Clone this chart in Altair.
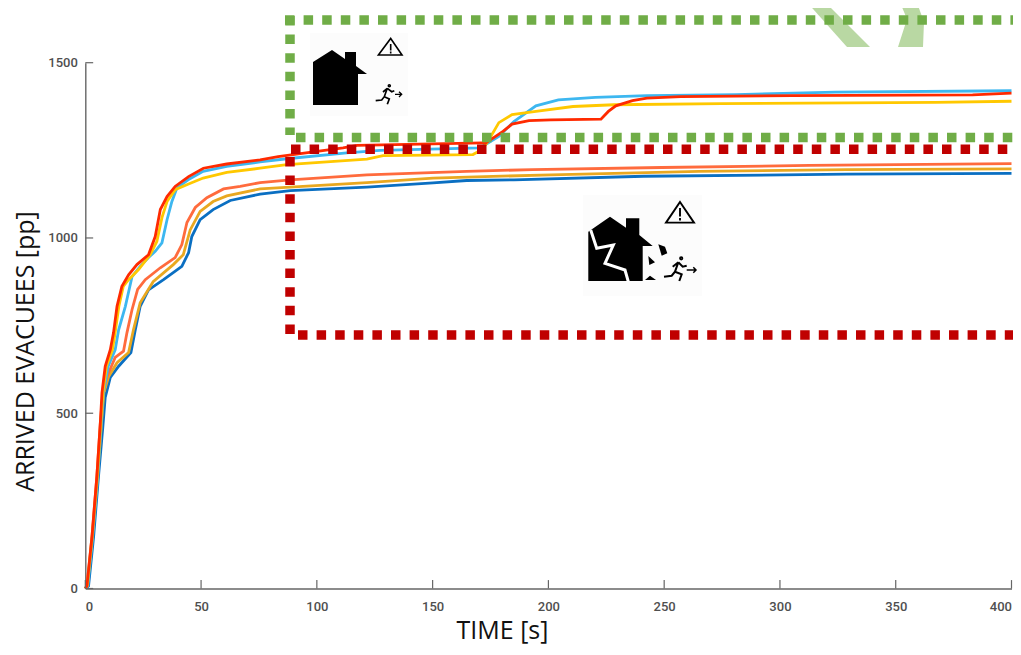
import altair as alt
import pandas as pd

# ---- values: time [s] / arrived evacuees [pp] ----
red_t = [0,0.7,2.9,5,6.5,7.2,8.6,10.8,12.2,13.7,15.8,18.7,22.3,27.3,30.2,32.4,35.3,38.8,44.6,51,61.1,75.5,83.3,111.3,117.4,171.7,173,180.4,184.3,191.6,201.1,222.7,225.9,229.1,236.3,242.5,257.2,305.1,383.2,400]
red_v = [0,7,149,320,473,559,634,681,730,805,862,895,924,952,1004,1081,1118,1147,1175,1199,1211,1223,1232,1257,1264,1271,1271,1304,1325,1335,1337,1339,1361,1377,1392,1399,1403,1406,1408,1413]

sky_t = [0,1.1,3.2,5.4,6.9,7.8,9.9,12.9,14.4,17.3,20.2,23.7,27.3,30.2,33.1,35.3,37.4,39.6,44.4,50.9,61.1,75.5,87,112.9,127.3,170.4,173.9,178.6,185.1,194.6,204.3,220.3,242.5,280.9,324,400]
sky_v = [0,9,149,320,473,559,634,681,738,805,890,919,944,962,986,1052,1104,1143,1166,1190,1204,1217,1226,1243,1250,1257,1271,1290,1332,1377,1394,1401,1406,1409,1416,1420]

yel_t = [0,0.9,3,5.2,6.7,7.6,9.1,11.7,12.9,14.5,16.4,18.7,23,28,30.9,33.1,35.3,38.8,44.6,50.9,61.1,75.5,87,121.6,128.6,167.4,171.2,173.9,178.6,184.3,194.6,210.6,228.3,274.7,367.2,400]
yel_v = [0,9,149,320,473,559,634,681,730,805,862,881,910,952,990,1058,1104,1138,1154,1171,1187,1199,1209,1225,1235,1238,1252,1275,1329,1352,1361,1375,1380,1383,1387,1390]

ora_t = [0,0.7,2.9,5,6.5,7.6,9.4,12.9,16.5,18,20.2,22.6,25.9,32.4,38.8,41.7,43.9,47.5,52.5,59.7,66.9,75.5,88.5,121.6,164.7,193.1,249,312.8,400]
ora_v = [0,7,149,320,473,559,605,659,677,730,796,853,881,915,944,981,1044,1087,1115,1140,1147,1158,1166,1180,1190,1195,1201,1207,1212]

gol_t = [0,0.9,3.1,5.3,7,8,10.1,13.7,18.7,20.8,23.7,29.3,38,42.3,45.3,49.6,55.2,61.1,75.5,88.5,121.6,150.2,201.1,264.9,328.8,400]
gol_v = [0,7,149,320,473,559,605,644,673,738,815,875,924,952,1023,1076,1104,1120,1140,1145,1158,1171,1180,1190,1195,1197]

blu_t = [0,1.4,3.6,5.7,7.6,8.6,10.8,14.4,19.7,21.6,23.7,27.3,33.8,41.7,44.6,46,49.6,55.2,62.6,75.5,88.5,121.6,150.2,164.7,185.1,241.1,328.8,400]
blu_v = [0,7,149,320,463,545,602,634,673,738,805,852,881,919,958,1004,1052,1081,1107,1125,1135,1145,1157,1164,1166,1176,1182,1184]

series = [("blue", blu_t, blu_v, "#0a6fc2"), ("gold", gol_t, gol_v, "#e9a820"),
          ("orange", ora_t, ora_v, "#ff6b3d"), ("sky", sky_t, sky_v, "#3db7f0"),
          ("yellow", yel_t, yel_v, "#ffc800"), ("red", red_t, red_v, "#ff2a00")]
x_ticks = [0, 50, 100, 150, 200, 250, 300, 350, 400]
y_ticks = [0, 500, 1000, 1500]

rows = [{"s": n, "t": a, "v": b} for n, ts, vs, _ in series for a, b in zip(ts, vs)]
df = pd.DataFrame(rows)

W, H = 1005, 639
M = 8  # page margin: decorations below are given in page pixels
xs = alt.Scale(domain=[0, 400], range=[77.3, 1003.5], nice=False, zero=False)
ys = alt.Scale(domain=[0, 1500], range=[580.5, 54.7], nice=False, zero=False)
FONT = "Roboto"
GREY = "#4f4f4f"

x_axis = alt.Axis(
    values=x_ticks, format="d", grid=False, ticks=False, offset=-(H - 580.5), domainColor="#666666", domainWidth=1.4,
    labelFont=FONT, labelFontSize=13, labelFontWeight=500, labelColor=GREY, labelPadding=12,
    labelOverlap=False, title="TIME [s]", titleFont="Open Sans", titleFontSize=25, titleFontWeight=400,
    titleColor="#111111", titleX=494, titleY=42, titleBaseline="middle", titleAlign="center")
y_axis = alt.Axis(
    values=y_ticks, format="d", grid=False, ticks=False, offset=-77.3, domainColor="#666666", domainWidth=1.4,
    labelFont=FONT, labelFontSize=13, labelFontWeight=500, labelColor=GREY, labelPadding=8,
    labelOverlap=False, title="ARRIVED EVACUEES [pp]", titleFont="Open Sans", titleFontSize=25,
    titleFontWeight=400, titleColor="#111111", titleX=-60, titleY=343, titleBaseline="middle",
    titleAlign="center")

curves = alt.Chart(df).mark_line(strokeWidth=2.8, interpolate="linear", clip=False).encode(
    x=alt.X("t:Q", scale=xs, axis=x_axis),
    y=alt.Y("v:Q", scale=ys, axis=y_axis),
    color=alt.Color("s:N", legend=None, scale=alt.Scale(domain=[s[0] for s in series], range=[s[3] for s in series])),
    order=alt.Order("t:Q"),
    detail="s:N",
)

xt = pd.DataFrame({"t": x_ticks, "a": [0] * len(x_ticks), "b": [24] * len(x_ticks)})
yt = pd.DataFrame({"v": y_ticks, "a": [0] * len(y_ticks), "b": [3.4] * len(y_ticks)})
x_tick_rules = alt.Chart(xt).mark_rule(color="#666666", strokeWidth=1.2).encode(
    x=alt.X("t:Q", scale=xs, axis=x_axis), y=alt.Y("a:Q", scale=ys, axis=y_axis), y2="b:Q")
y_tick_rules = alt.Chart(yt).mark_rule(color="#666666", strokeWidth=1.2).encode(
    y=alt.Y("v:Q", scale=ys, axis=y_axis), x=alt.X("a:Q", scale=xs, axis=x_axis), x2="b:Q")

one = pd.DataFrame({"k": [0]})

def dots(x1, y1, x2, y2, color):
    return alt.Chart(one).mark_rule(color=color, strokeWidth=9.5, strokeDash=[9.5, 9.1]).encode(
        x=alt.value(x1 - M), x2=alt.value(x2 - M), y=alt.value(y1 - M), y2=alt.value(y2 - M))

def shape(path, fill=None, stroke=None, width=2):
    kw = dict(shape=path, size=4, clip=False)
    if fill:
        kw.update(filled=True, fill=fill, strokeWidth=0)
    else:
        kw.update(filled=False, stroke=stroke, strokeWidth=width, strokeCap="butt")
    return alt.Chart(one).mark_point(**kw).encode(x=alt.value(-M), y=alt.value(-M), opacity=alt.value(1))

GREEN, DRED, PALE = "#70ad47", "#c00000", "#b9d8a3"
frames = [
    dots(285, 20, 1021, 20, GREEN), dots(290, 16, 290, 135, GREEN), dots(296, 137.5, 1021, 137.5, GREEN),
    dots(291, 149.3, 1021, 149.3, DRED), dots(290, 157, 290, 335, DRED), dots(298, 335, 1021, 335, DRED),
]
deco = [
    shape("M805 0L847 47L870 47L823 0Z", fill=PALE),
    shape("M899 0L916 0L924 22L923 47L898 47L907 19Z", fill=PALE),
]
icons = [
    shape("M310 33L408 33L408 116L310 116Z", fill="#fcfcfc"),
    shape("M583 195L702 195L702 296L583 296Z", fill="#fcfcfc"),
    # intact house
    shape("M313 62L332 50L345 59L345 52L356 52L356 66L367 74L358 74L358 105L313 105Z", fill="#000000"),
    shape("M390.7 38.5L402 55L378.4 55ZM390.7 44L390.7 50.5M390.7 51.5L390.7 53.5", stroke="#000000", width=1.6),
    shape("M388.3 85.7A1 1 0 1 0 390.3 85.7A1 1 0 1 0 388.3 85.7Z", stroke="#000000", width=1.6),
    shape("M387.3 88.3L384.3 96.7L381.7 100L375.7 100.7M384.3 96.7L389.3 99L387.3 104.3M387.3 88.3L383 92M387.3 88.3L391.7 91.7L394.3 90.7",
          stroke="#000000", width=1.7),
    shape("M395 94.3L401.7 94.3M399 91.7L401.7 94.3L399 97", stroke="#000000", width=1.3),
    # damaged house
    shape("M588.3 231.7L610 216.7L626 227.7L626 218.3L639.3 218.3L639.3 235L652.7 246L642.7 246L642.7 281L588.3 281Z", fill="#000000"),
    shape("M590.7 230L596.7 248.3L613.3 245L605 263.3L625 270L628.3 281.7", stroke="#ffffff", width=3),
    shape("M658.3 244.3L665 246.7L667.3 253.3L661.7 255.7Z", fill="#000000"),
    shape("M648.3 256L655 262.3L649.3 265Z", fill="#000000"),
    shape("M645 280L650 275.7L656 280Z", fill="#000000"),
    shape("M680 202L694 222.6L666 222.6ZM680 208L680 216.5M680 218L680 220.5", stroke="#000000", width=1.9),
    shape("M680 258.3A1.2 1.2 0 1 0 682.4 258.3A1.2 1.2 0 1 0 680 258.3Z", stroke="#000000", width=1.8),
    shape("M678.3 262.3L675 271.7L671.7 275.7L664 276.7M675 271.7L681.7 274.3L679.3 281M678.3 262.3L672.7 266.7M678.3 262.3L682.7 266.7L686.7 265.7",
          stroke="#000000", width=2),
    shape("M686.7 270L696 270M693.3 267.3L696 270L693.3 272.7", stroke="#000000", width=1.5),
]

chart = alt.layer(curves, x_tick_rules, y_tick_rules, *deco, *icons, *frames).properties(
    width=W, height=H, padding=0, autosize=alt.AutoSizeParams(type="none"), background="#ffffff"
).configure_view(stroke=None)

chart.save("out.html", embed_options={"renderer": "svg", "actions": False})
